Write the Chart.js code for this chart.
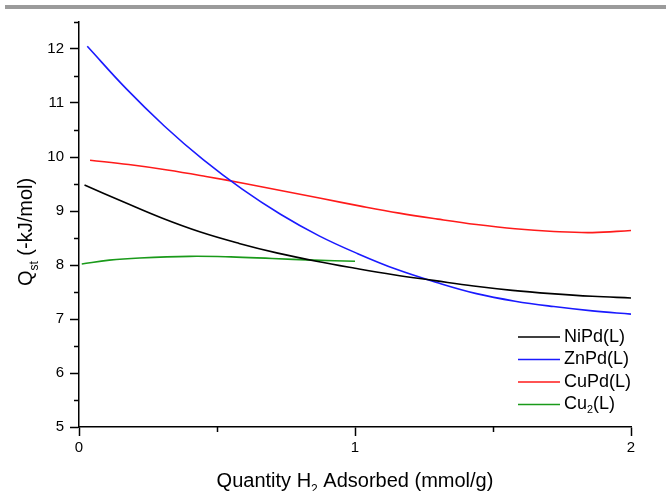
<!DOCTYPE html>
<html>
<head>
<meta charset="utf-8">
<script src="https://cdn.jsdelivr.net/npm/chart.js@4"></script>
<style>
	body { margin: 0; background: #fff; }
	#wrap { width: 666px; height: 491px; }
</style>
</head>
<body>
<div id="wrap"><canvas id="qst" width="666" height="491"></canvas></div>
<script>
// series (x in mmol/g, y in -kJ/mol)
var niPdX = [0.02, 0.16, 0.30, 0.44, 0.58, 0.72, 0.86, 1.00, 1.14, 1.29, 1.43, 1.57, 1.71, 1.86, 2.0];
var niPdY = [9.48, 9.17, 8.87, 8.61, 8.40, 8.22, 8.07, 7.94, 7.82, 7.71, 7.61, 7.53, 7.47, 7.42, 7.39];

var znPdX = [0.03, 0.17, 0.31, 0.45, 0.59, 0.73, 0.87, 1.01, 1.15, 1.30, 1.44, 1.58, 1.72, 1.86, 2.0];
var znPdY = [12.05, 11.27, 10.57, 9.95, 9.41, 8.94, 8.54, 8.21, 7.92, 7.67, 7.47, 7.33, 7.23, 7.15, 7.09];

var cuPdX = [0.04, 0.18, 0.32, 0.46, 0.60, 0.74, 0.88, 1.02, 1.16, 1.30, 1.44, 1.58, 1.72, 1.86, 2.0];
var cuPdY = [9.94, 9.86, 9.76, 9.64, 9.51, 9.37, 9.23, 9.09, 8.96, 8.85, 8.75, 8.67, 8.62, 8.60, 8.64];

var cu2X = [0.01, 0.11, 0.22, 0.40, 0.55, 0.70, 0.85, 1.0];
var cu2Y = [8.02, 8.09, 8.13, 8.16, 8.15, 8.12, 8.09, 8.07];

var seriesNames = ["NiPd(L)", "ZnPd(L)", "CuPd(L)", "Cu2(L)"];
var seriesColors = ["#000000", "#1a1aff", "#ff1a1a", "#1a9a1a"];

function pts(xs, ys) {
	return xs.map(function (x, i) { return { x: x, y: ys[i] }; });
}

function line(idx, xs, ys) {
	return {
		label: seriesNames[idx],
		data: pts(xs, ys),
		borderColor: seriesColors[idx],
		borderWidth: 1.6,
		pointRadius: 0,
		fill: false,
		tension: 0.4
	};
}

var FONT = 'Arial, "Liberation Sans", sans-serif';

// text with a subscript part: parts = [[text, isSub], ...]
function subText(ctx, parts, size, align) {
	var w = 0, i;
	for (i = 0; i < parts.length; i++) {
		ctx.font = (parts[i][1] ? size * 0.6 : size) + 'px ' + FONT;
		w += ctx.measureText(parts[i][0]).width;
	}
	var x = align === 'center' ? -w / 2 : 0;
	for (i = 0; i < parts.length; i++) {
		ctx.font = (parts[i][1] ? size * 0.6 : size) + 'px ' + FONT;
		ctx.fillText(parts[i][0], x, parts[i][1] ? size * 0.3 : 0);
		x += ctx.measureText(parts[i][0]).width;
	}
}

var extras = {
	id: 'extras',
	beforeDraw: function (chart) {
		var ctx = chart.ctx;
		ctx.save();
		ctx.fillStyle = '#9b9b9b';
		ctx.fillRect(5, 5, 661, 4);
		ctx.restore();
	},
	afterDraw: function (chart) {
		var ctx = chart.ctx;
		var xs = chart.scales.x, ys = chart.scales.y;
		var area = chart.chartArea;
		ctx.save();
		ctx.strokeStyle = '#000';
		ctx.lineWidth = 1.5;
		// minor ticks
		[5.5, 6.5, 7.5, 8.5, 9.5, 10.5, 11.5, 12.5].forEach(function (v) {
			var py = Math.round(ys.getPixelForValue(v)) + 0.5;
			ctx.beginPath();
			ctx.moveTo(area.left - 5, py);
			ctx.lineTo(area.left, py);
			ctx.stroke();
		});
		[0.5, 1.5].forEach(function (v) {
			var px = Math.round(xs.getPixelForValue(v)) + 0.5;
			ctx.beginPath();
			ctx.moveTo(px, area.bottom);
			ctx.lineTo(px, area.bottom + 5);
			ctx.stroke();
		});

		// axis titles
		ctx.fillStyle = '#000';
		ctx.textBaseline = 'alphabetic';
		ctx.save();
		ctx.translate(355, 487);
		subText(ctx, [["Quantity H", false], ["2", true], [" Adsorbed (mmol/g)", false]], 20, 'center');
		ctx.restore();
		ctx.save();
		ctx.translate(32, 232);
		ctx.rotate(-Math.PI / 2);
		subText(ctx, [["Q", false], ["st", true], [" (-kJ/mol)", false]], 20, 'center');
		ctx.restore();

		// legend
		var top = 337, step = 22.5;
		ctx.textBaseline = 'middle';
		chart.data.datasets.forEach(function (ds, i) {
			var y = top + i * step;
			ctx.strokeStyle = ds.borderColor;
			ctx.lineWidth = 1.6;
			ctx.beginPath();
			ctx.moveTo(518, y);
			ctx.lineTo(560, y);
			ctx.stroke();
			ctx.fillStyle = '#000';
			ctx.save();
			ctx.translate(564, y);
			if (i === 3) {
				subText(ctx, [["Cu", false], ["2", true], ["(L)", false]], 18, 'left');
			} else {
				ctx.font = '18px ' + FONT;
				ctx.fillText(ds.label, 0, 0);
			}
			ctx.restore();
		});
		ctx.restore();
	}
};

var config = {
	type: 'line',
	data: {
		datasets: [
			line(0, niPdX, niPdY),
			line(1, znPdX, znPdY),
			line(2, cuPdX, cuPdY),
			line(3, cu2X, cu2Y)
		]
	},
	options: {
		responsive: false,
		animation: false,
		layout: { padding: { top: 22, right: 35, left: 0, bottom: 0 } },
		plugins: {
			legend: { display: false },
			tooltip: { enabled: false }
		},
		scales: {
			x: {
				type: 'linear',
				min: 0,
				max: 2,
				afterFit: function (s) { s.height = 64; },
				ticks: {
					stepSize: 1,
					color: '#000',
					padding: 3,
					maxRotation: 0,
					font: { family: FONT, size: 15 }
				},
				grid: {
					drawOnChartArea: false,
					tickLength: 9,
					tickColor: '#000',
					tickWidth: 1.5
				},
				border: { color: '#000', width: 1.5 }
			},
			y: {
				min: 5,
				max: 12.5,
				afterFit: function (s) { s.width = 79; },
				ticks: {
					stepSize: 1,
					includeBounds: false,
					color: '#000',
					padding: 6,
					font: { family: FONT, size: 15 }
				},
				grid: {
					drawOnChartArea: false,
					tickLength: 9,
					tickColor: '#000',
					tickWidth: 1.5
				},
				border: { color: '#000', width: 1.5 }
			}
		}
	},
	plugins: [extras]
};

var ctx = document.getElementById("qst").getContext("2d");
window.qstChart = new Chart(ctx, config);
</script>
</body>
</html>
